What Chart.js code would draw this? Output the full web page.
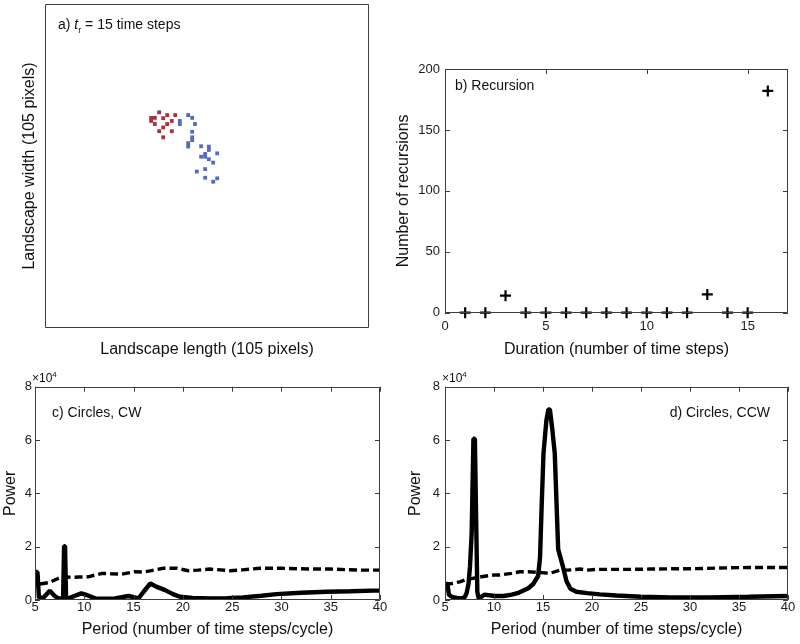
<!DOCTYPE html>
<html>
<head>
<meta charset="utf-8">
<title>Recursion and circling</title>
<script src="https://cdn.jsdelivr.net/npm/chart.js@4.4.1/dist/chart.umd.min.js"></script>
<style>
    body { margin: 0; background: #fff; }
    #wrap { position: relative; width: 800px; height: 644px; }
    #wrap canvas { position: absolute; left: 0; top: 0; }
</style>
</head>
<body>
<div id="wrap">
    <canvas id="chartA" width="800" height="644"></canvas>
    <canvas id="chartB" width="800" height="644"></canvas>
    <canvas id="chartC" width="800" height="644"></canvas>
    <canvas id="chartD" width="800" height="644"></canvas>
</div>
<script>
// a) walker positions, landscape pixels (y counted from the top edge)
const redX = [37.0, 39.6, 42.2, 34.4, 35.6, 38.3, 34.4, 41.1, 35.6, 39.6, 38.3, 37.0, 41.1, 38.3];
const redY = [35.1, 36.0, 36.0, 36.9, 36.9, 37.0, 37.9, 37.9, 38.9, 38.9, 40.0, 41.2, 41.2, 43.2];
const blueX = [46.4, 47.7, 43.7, 43.7, 48.6, 47.7, 47.7, 47.7, 46.4, 46.4, 50.6, 53.1, 53.1, 55.8,
               51.9, 50.6, 51.9, 53.1, 54.5, 51.9, 49.2, 51.9, 55.8, 54.5];
const blueY = [36.0, 36.9, 37.9, 38.9, 38.9, 41.4, 43.2, 44.1, 45.1, 46.2, 46.1, 46.2, 47.3, 48.4,
               48.6, 49.5, 49.5, 50.3, 51.4, 53.5, 54.3, 56.3, 56.5, 57.6];

// b) recursions per duration
const durations = [1, 2, 3, 4, 5, 6, 7, 8, 9, 10, 11, 12, 13, 14, 15, 16];
const recursions = [0, 0, 14, 0, 0, 0, 0, 0, 0, 0, 0, 0, 15, 0, 0, 182];
const durationTicks = [0, 5, 10, 15];

// c) clockwise circles, power in units of 1e4
const cwPeriod = [5.0, 5.25, 5.4, 5.9, 6.5, 7.0, 7.35, 7.85, 7.95, 8.05, 8.15, 8.4, 9.0, 9.7, 10.3,
                  11.1, 12.0, 13.1, 14.5, 15.5, 16.0, 16.7, 17.3, 18.2, 19.0, 19.7, 21.0, 22.75,
                  24.5, 26.1, 28.0, 29.5, 32.0, 34.6, 37.0, 39.3, 40.0];
const cwPower = [1.05, 1.05, 0.08, 0.1, 0.35, 0.15, 0.06, 0.06, 2.02, 2.02, 0.06, 0.06, 0.15, 0.25, 0.18,
                 0.06, 0.05, 0.06, 0.15, 0.06, 0.3, 0.62, 0.5, 0.37, 0.22, 0.12, 0.08, 0.06,
                 0.07, 0.1, 0.16, 0.22, 0.27, 0.31, 0.33, 0.35, 0.35];
const cwNullPeriod = [5.5, 5.85, 6.5, 7.0, 7.7, 8.7, 9.5, 10.4, 11.8, 12.8, 13.8, 15.1, 16.0, 16.8,
                      18.0, 19.4, 20.55, 21.5, 22.75, 24.8, 26.0, 27.8, 30.0, 32.9, 35.0, 38.0, 40.0];
const cwNullPower = [0.6, 0.62, 0.66, 0.75, 0.87, 0.85, 0.86, 0.87, 1.0, 0.98, 0.97, 1.06, 1.05, 1.1,
                     1.19, 1.19, 1.1, 1.12, 1.16, 1.1, 1.13, 1.19, 1.19, 1.16, 1.16, 1.12, 1.12];

// d) counter-clockwise circles, power in units of 1e4
const ccwPeriod = [5.0, 5.25, 5.4, 5.7, 6.2, 6.7, 7.0, 7.2, 7.4, 7.55, 7.72, 7.9, 8.05, 8.2, 8.3, 8.45,
                   9.0, 10.1, 11.0, 11.8, 12.5, 13.5, 14.0, 14.5, 14.7, 14.87, 15.05, 15.35, 15.55,
                   15.7, 15.95, 16.2, 16.55, 17.0, 17.4, 17.8, 18.4, 19.5, 20.8, 22.5, 25.0, 28.0,
                   32.0, 36.0, 40.0];
const ccwPower = [0.6, 0.6, 0.2, 0.12, 0.08, 0.06, 0.1, 0.25, 0.6, 1.25, 2.5, 6.05, 6.05, 2.5, 0.3, 0.05,
                  0.2, 0.15, 0.15, 0.2, 0.27, 0.44, 0.6, 0.9, 1.6, 3.6, 5.5, 6.75, 7.15,
                  7.15, 6.4, 5.5, 1.9, 1.3, 0.7, 0.42, 0.31, 0.26, 0.21, 0.17, 0.12, 0.1,
                  0.1, 0.12, 0.15];
const ccwNullPeriod = [5.0, 5.7, 6.5, 7.04, 7.7, 8.4, 9.2, 10.1, 10.6, 11.8, 12.65, 13.5, 14.7, 15.7,
                       16.7, 17.5, 18.8, 19.5, 20.5, 21.8, 24.2, 25.9, 28.0, 30.0, 33.0, 36.0, 39.2, 40.0];
const ccwNullPower = [0.6, 0.62, 0.68, 0.75, 0.8, 0.85, 0.9, 0.94, 0.94, 1.0, 1.06, 1.06, 1.03, 1.0,
                      1.12, 1.12, 1.16, 1.12, 1.15, 1.15, 1.15, 1.16, 1.17, 1.17, 1.2, 1.22, 1.22, 1.22];

const FONT = '"Liberation Sans", Arial, Helvetica, sans-serif';
Chart.defaults.font.family = FONT;
Chart.defaults.color = '#1a1a1a';

function toPoints(xs, ys) {
    return xs.map(function(x, i) { return {x: x, y: ys[i]}; });
}

// box round the plot area plus MATLAB style inward ticks on all four sides
const frameTicks = {
    id: 'frameTicks',
    afterDatasetsDraw: function(chart, args, opts) {
        const ctx = chart.ctx;
        const a = chart.chartArea;
        const len = 5;
        ctx.save();
        ctx.strokeStyle = '#3c3c3c';
        ctx.lineWidth = 1;
        ctx.beginPath();
        if (opts.ticks) {
            const xs = chart.scales.x, ys = chart.scales.y;
            xs.ticks.forEach(function(t) {
                const px = Math.round(xs.getPixelForValue(t.value)) + 0.5;
                ctx.moveTo(px, a.bottom); ctx.lineTo(px, a.bottom - len);
                ctx.moveTo(px, a.top); ctx.lineTo(px, a.top + len);
            });
            ys.ticks.forEach(function(t) {
                const py = Math.round(ys.getPixelForValue(t.value)) + 0.5;
                ctx.moveTo(a.left, py); ctx.lineTo(a.left + len, py);
                ctx.moveTo(a.right, py); ctx.lineTo(a.right - len, py);
            });
        }
        ctx.rect(Math.round(a.left) + 0.5, Math.round(a.top) + 0.5,
                 Math.round(a.width) - 1, Math.round(a.height) - 1);
        ctx.stroke();
        ctx.restore();
    }
};

// small texts placed relative to the plot area (panel letters, exponent)
const panelText = {
    id: 'panelText',
    afterDraw: function(chart, args, opts) {
        const ctx = chart.ctx;
        const a = chart.chartArea;
        ctx.save();
        ctx.fillStyle = '#111';
        ctx.textBaseline = 'alphabetic';
        (opts.items || []).forEach(function(item) {
            const fontOf = function(p) { return (p.style || 'normal') + ' ' + p.size + 'px ' + FONT; };
            let total = 0;
            item.parts.forEach(function(p) { ctx.font = fontOf(p); total += ctx.measureText(p.text).width; });
            let x = item.align === 'right' ? a.right - item.dx - total : a.left + item.dx;
            const y = a.top + item.dy;
            item.parts.forEach(function(p) {
                ctx.font = fontOf(p);
                ctx.fillText(p.text, x, y + (p.dy || 0));
                x += ctx.measureText(p.text).width;
            });
        });
        ctx.restore();
    }
};

function baseOptions(padding, texts, showTicks) {
    return {
        responsive: false,
        animation: false,
        events: [],
        layout: {padding: padding},
        plugins: {
            legend: {display: false},
            tooltip: {enabled: false},
            frameTicks: {ticks: showTicks},
            panelText: {items: texts}
        }
    };
}

function axisTitle(text, pad) {
    return {display: true, text: text, font: {size: 16}, color: '#111', padding: pad};
}

document.addEventListener('DOMContentLoaded', function() {
    // a) landscape snapshot
    const optsA = baseOptions({left: 0, top: 4, right: 431, bottom: 276}, [
        {dx: 13, dy: 24.5, parts: [
            {text: 'a) ', size: 14},
            {text: 't', size: 14, style: 'italic'},
            {text: 'r', size: 9, dy: 4},
            {text: ' = 15 time steps', size: 14}
        ]}
    ], false);
    optsA.scales = {
        x: {
            type: 'linear', min: 0, max: 105,
            grid: {display: false, drawTicks: false}, border: {display: false},
            ticks: {display: false},
            title: axisTitle('Landscape length (105 pixels)', {top: 0, bottom: 8.4}),
            afterFit: function(scale) { scale.height = 40; }
        },
        y: {
            type: 'linear', min: 0, max: 105, reverse: true,
            grid: {display: false, drawTicks: false}, border: {display: false},
            ticks: {display: false},
            title: axisTitle('Landscape width (105 pixels)', {top: 20.4, bottom: 0}),
            afterFit: function(scale) { scale.width = 45; }
        }
    };
    new Chart(document.getElementById('chartA'), {
        type: 'scatter',
        data: {
            datasets: [{
                data: toPoints(redX, redY),
                pointStyle: 'rect', pointRadius: 2.7,
                backgroundColor: 'rgb(172, 48, 58)', borderWidth: 0
            }, {
                data: toPoints(blueX, blueY),
                pointStyle: 'rect', pointRadius: 2.7,
                backgroundColor: 'rgb(84, 104, 200)', borderWidth: 0
            }]
        },
        options: optsA,
        plugins: [frameTicks, panelText]
    });

    // b) recursion counts
    const optsB = baseOptions({left: 393, top: 69, right: 12, bottom: 281.3}, [
        {dx: 10, dy: 21, parts: [{text: 'b) Recursion', size: 14}]}
    ], true);
    optsB.scales = {
        x: {
            type: 'linear', min: 0, max: 17,
            grid: {display: false, drawTicks: false}, border: {display: false},
            ticks: {font: {size: 13}, padding: 5.5, maxRotation: 0},
            afterBuildTicks: function(scale) {
                scale.ticks = durationTicks.map(function(v) { return {value: v}; });
            },
            title: axisTitle('Duration (number of time steps)', {top: 0, bottom: 3.1}),
            afterFit: function(scale) { scale.height = 50; }
        },
        y: {
            type: 'linear', min: 0, max: 200,
            grid: {display: false, drawTicks: false}, border: {display: false},
            ticks: {font: {size: 13}, padding: 5, stepSize: 50},
            title: axisTitle('Number of recursions', {top: 1.4, bottom: 0}),
            afterFit: function(scale) { scale.width = 52; }
        }
    };
    new Chart(document.getElementById('chartB'), {
        type: 'scatter',
        data: {
            datasets: [{
                data: toPoints(durations, recursions),
                pointStyle: 'cross', pointRadius: 5.5,
                borderColor: '#000', borderWidth: 2.2,
                clip: false
            }]
        },
        options: optsB,
        plugins: [frameTicks, panelText]
    });

    // c) and d) power spectra
    function powerScales(yWidth, yTickPad) {
        return {
            x: {
                type: 'linear', min: 5, max: 40,
                grid: {display: false, drawTicks: false}, border: {display: false},
                ticks: {font: {size: 13}, padding: 0, stepSize: 5, maxRotation: 0},
                title: axisTitle('Period (number of time steps/cycle)', {top: 0, bottom: 4.4}),
                afterFit: function(scale) { scale.height = 44; }
            },
            y: {
                type: 'linear', min: 0, max: 8,
                grid: {display: false, drawTicks: false}, border: {display: false},
                ticks: {font: {size: 13}, padding: yTickPad, stepSize: 2},
                title: axisTitle('Power', {top: 1.4, bottom: 0}),
                afterFit: function(scale) { scale.width = yWidth; }
            }
        };
    }

    function powerData(px, py, nx, ny) {
        return {
            datasets: [{
                data: toPoints(nx, ny),
                borderColor: '#000', borderWidth: 3.4, borderDash: [8, 4],
                pointRadius: 0, tension: 0, fill: false
            }, {
                data: toPoints(px, py),
                borderColor: '#000', borderWidth: 4.4,
                borderJoinStyle: 'bevel', borderCapStyle: 'butt',
                pointRadius: 0, tension: 0, fill: false
            }]
        };
    }

    const expText = {dx: -3, dy: -5, parts: [{text: '\u00d710', size: 12}, {text: '4', size: 8, dy: -5}]};

    const optsC = baseOptions({left: 0, top: 386.7, right: 420, bottom: 0}, [
        expText,
        {dx: 17, dy: 30, parts: [{text: 'c) Circles, CW', size: 14}]}
    ], true);
    optsC.scales = powerScales(35, 3);
    new Chart(document.getElementById('chartC'), {
        type: 'line',
        data: powerData(cwPeriod, cwPower, cwNullPeriod, cwNullPower),
        options: optsC,
        plugins: [frameTicks, panelText]
    });

    const optsD = baseOptions({left: 405, top: 386.7, right: 12, bottom: 0}, [
        expText,
        {dx: 18, dy: 30, align: 'right', parts: [{text: 'd) Circles, CCW', size: 14}]}
    ], true);
    optsD.scales = powerScales(40, 5);
    new Chart(document.getElementById('chartD'), {
        type: 'line',
        data: powerData(ccwPeriod, ccwPower, ccwNullPeriod, ccwNullPower),
        options: optsD,
        plugins: [frameTicks, panelText]
    });
});
</script>
</body>
</html>
